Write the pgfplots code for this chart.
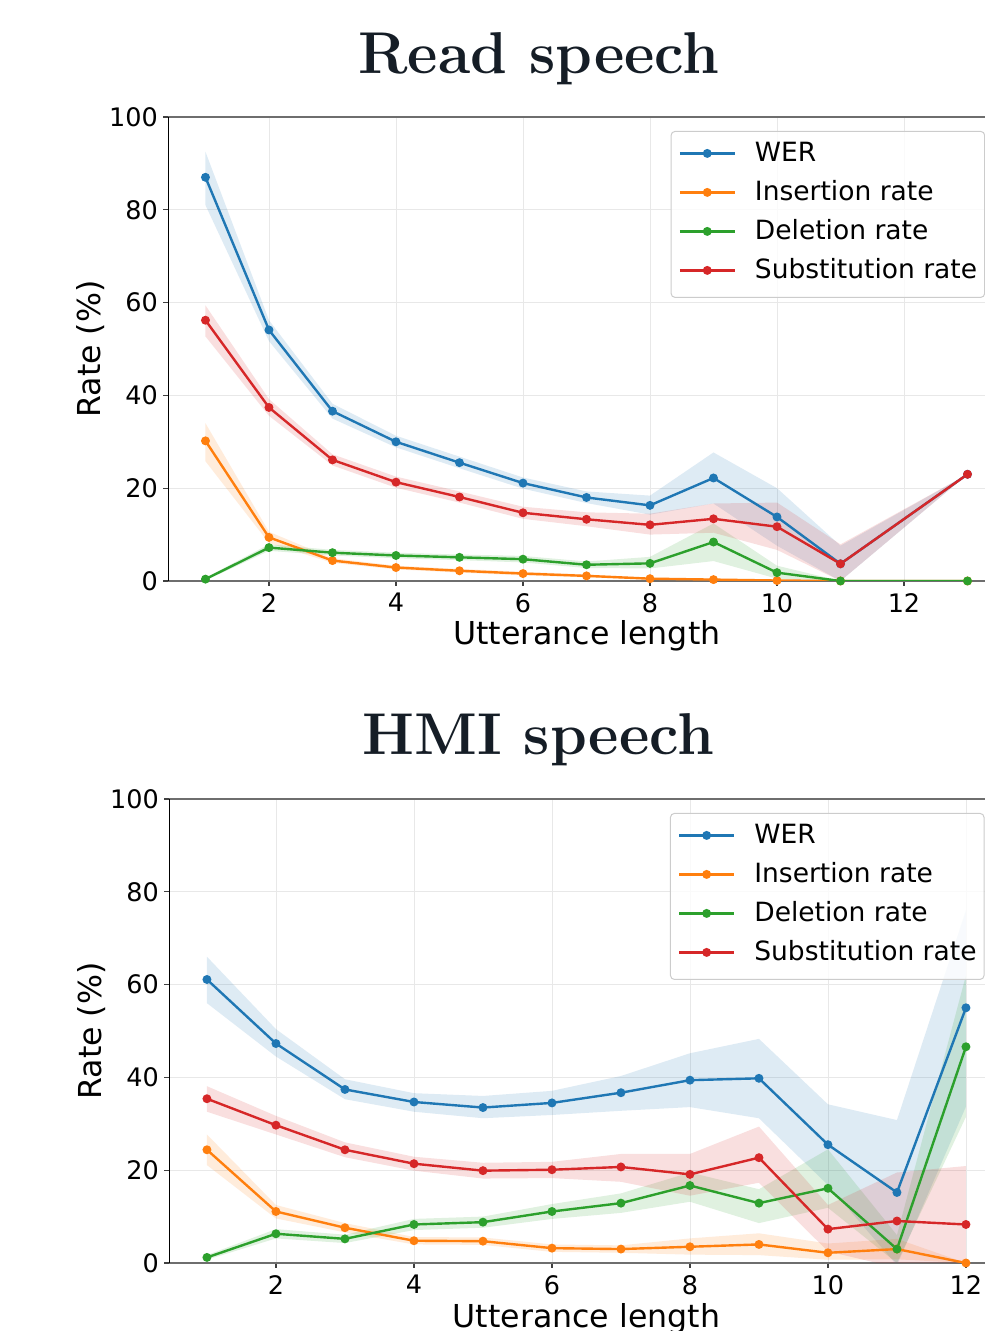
\documentclass[border=0pt]{standalone}
\usepackage{fontspec}
\usepackage{pgfplots}
\pgfplotsset{compat=1.18}
\usepackage{pgfplotstable}
\usepgfplotslibrary{fillbetween}
\newfontfamily\dejavu{DejaVu Sans}
\definecolor{tblue}{HTML}{1F77B4}
\definecolor{torange}{HTML}{FF7F0E}
\definecolor{tgreen}{HTML}{2CA02C}
\definecolor{tred}{HTML}{D62728}
\definecolor{titlec}{HTML}{151D26}
\definecolor{spinec}{HTML}{6E6E6E}
\definecolor{gridc}{HTML}{E8E8E8}

% ---------- Read speech ----------
\pgfplotstableread{
x m lo hi
1 87.0 81.0 92.5
2 54.1 51.7 56.2
3 36.6 35.0 38.2
4 30.0 28.8 31.3
5 25.5 24.3 26.8
6 21.1 19.9 22.3
7 18.0 16.8 19.3
8 16.3 14.3 18.4
9 22.2 16.7 27.7
10 13.8 7.6 20.0
11 3.7 0.0 7.6
13 23.0 23.0 23.0
}\rwer
\pgfplotstableread{
x m lo hi
1 30.2 25.8 34.0
2 9.4 8.2 10.6
3 4.4 3.9 4.9
4 2.9 2.5 3.3
5 2.2 1.8 2.6
6 1.6 1.2 2.0
7 1.1 0.8 1.4
8 0.5 0.3 0.7
9 0.3 0.1 0.5
10 0.1 0.0 0.2
11 0.0 0.0 0.0
13 0.0 0.0 0.0
}\rins
\pgfplotstableread{
x m lo hi
1 0.4 0.1 0.7
2 7.2 6.5 7.9
3 6.1 5.5 6.7
4 5.5 4.9 6.1
5 5.1 4.5 5.7
6 4.7 4.0 5.4
7 3.5 2.8 4.2
8 3.8 2.7 5.2
9 8.4 4.3 12.4
10 1.8 0.5 3.3
11 0.0 0.0 0.0
13 0.0 0.0 0.0
}\rdel
\pgfplotstableread{
x m lo hi
1 56.2 52.7 59.4
2 37.4 35.6 39.2
3 26.1 24.9 27.3
4 21.3 20.1 22.5
5 18.1 16.9 19.3
6 14.7 13.4 16.0
7 13.3 11.8 14.8
8 12.1 10.0 14.5
9 13.4 10.4 16.7
10 11.7 6.7 16.9
11 3.7 0.0 7.9
13 23.0 23.0 23.0
}\rsub

% ---------- HMI speech ----------
\pgfplotstableread{
x m lo hi
1 61.1 56.0 66.0
2 47.3 44.5 50.4
3 37.4 35.3 39.6
4 34.7 32.6 36.6
5 33.5 31.2 36.0
6 34.5 31.9 37.1
7 36.7 32.8 40.3
8 39.4 33.6 45.2
9 39.8 31.2 48.3
10 25.5 16.8 34.2
11 15.2 -0.5 30.8
12 55.0 33.7 76.0
}\hwer
\pgfplotstableread{
x m lo hi
1 24.4 21.1 27.7
2 11.1 9.6 12.5
3 7.6 6.6 8.6
4 4.8 4.0 5.6
5 4.7 3.9 5.5
6 3.2 2.4 4.0
7 3.0 2.2 3.8
8 3.5 1.8 5.3
9 4.0 1.7 6.4
10 2.2 0.7 4.2
11 3.0 0.8 5.2
12 0.0 0.0 0.0
}\hins
\pgfplotstableread{
x m lo hi
1 1.2 0.7 1.7
2 6.3 5.3 7.3
3 5.2 4.3 6.1
4 8.3 7.1 9.5
5 8.8 7.6 10.0
6 11.1 9.5 12.7
7 12.9 10.8 15.0
8 16.7 13.2 19.5
9 12.9 8.6 15.9
10 16.1 11.9 24.5
11 3.0 0.0 6.0
12 46.6 31.5 62.0
}\hdel
\pgfplotstableread{
x m lo hi
1 35.4 32.6 38.1
2 29.7 27.7 31.7
3 24.4 22.8 26.0
4 21.4 19.9 22.9
5 19.9 18.2 21.6
6 20.1 18.3 21.8
7 20.7 17.5 23.5
8 19.1 14.5 23.5
9 22.7 17.3 29.4
10 7.3 2.5 12.5
11 9.05 -1.0 19.5
12 8.3 -4.0 20.9
}\hsub

\newcommand{\band}[3]{%
  \addplot[draw=none, forget plot, name path=#2hi] table[x=x,y=hi]{#1};
  \addplot[draw=none, forget plot, name path=#2lo] table[x=x,y=lo]{#1};
  \addplot[fill=#3, fill opacity=0.15, draw=none, forget plot] fill between[of=#2hi and #2lo];
}

\pgfplotsset{
  series/.style={color=#1, line width=2.4pt, mark=*, mark size=3.2pt, mark options={solid, fill=#1, draw=#1}},
  panel/.style={
    scale only axis, height=464pt,
    ymin=0, ymax=100, ytick={0,20,...,100},
    xtick={2,4,...,12},
    separate axis lines,
    x axis line style={spinec, line width=1.8pt},
    y axis line style={black, line width=1pt},
    grid=major,
    major grid style={gridc, line width=0.9pt},
    tick align=outside,
    xtick pos=bottom, ytick pos=left,
    major tick length=5pt,
    every tick/.style={black!75, line width=1.2pt},
    /pgf/number format/assume math mode=true,
    ticklabel style={font=\dejavu\fontsize{25.5}{30}\selectfont, inner sep=0pt},
    yticklabel style={xshift=-5pt},
    xticklabel style={yshift=-7pt},
    label style={font=\dejavu\fontsize{31.6}{38}\selectfont},
    xlabel={Utterance length},
    ylabel={Rate (\%)},
    xlabel style={at={([yshift=-64pt]axis description cs:0.5,0)}, anchor=base},
    ylabel style={at={([xshift=-68pt]axis description cs:0,0.5)}, anchor=base},
    legend cell align=left,
    legend style={
      at={(0.6,0.970)}, anchor=north west,
      font=\dejavu\fontsize{26.5}{31}\selectfont,
      draw=black!20, line width=1pt, rounded corners=4pt,
      fill=white, fill opacity=0.8, text opacity=1, draw opacity=1,
      inner xsep=7.5pt, inner ysep=11.5pt, row sep=13pt,
      nodes={inner sep=0pt, text height=19pt, text depth=7pt},
      /tikz/every odd column/.append style={column sep=19pt},
    },
    legend image code/.code={
      \draw[line width=2.4pt] (0pt,2.5pt) -- (55pt,2.5pt);
      \fill (27.5pt,2.5pt) circle (3.2pt);
    },
  }
}

\begin{document}
\begin{tikzpicture}
\node[anchor=base, text=titlec, font=\fontsize{59}{70}\selectfont\bfseries] at (539pt,1257.7pt) {Read speech};
\begin{axis}[panel, at={(168pt,750pt)}, anchor=south west, width=837.6pt, xmin=0.41, xmax=13.6]
  \band{\rwer}{rw}{tblue}
  \band{\rins}{ri}{torange}
  \band{\rdel}{rd}{tgreen}
  \band{\rsub}{rs}{tred}
  \addplot[series=tblue] table[x=x,y=m]{\rwer};
  \addlegendentry{WER}
  \addplot[series=torange] table[x=x,y=m]{\rins};
  \addlegendentry{Insertion rate}
  \addplot[series=tgreen] table[x=x,y=m]{\rdel};
  \addlegendentry{Deletion rate}
  \addplot[series=tred] table[x=x,y=m]{\rsub};
  \addlegendentry{Substitution rate}
\end{axis}

\node[anchor=base, text=titlec, font=\fontsize{59}{70}\selectfont\bfseries] at (538pt,576pt) {HMI speech};
\begin{axis}[panel, at={(169pt,68pt)}, anchor=south west, width=834.9pt, xmin=0.45, xmax=12.55]
  \band{\hwer}{hw}{tblue}
  \band{\hins}{hi}{torange}
  \band{\hdel}{hd}{tgreen}
  \band{\hsub}{hs}{tred}
  \addplot[series=tblue] table[x=x,y=m]{\hwer};
  \addlegendentry{WER}
  \addplot[series=torange] table[x=x,y=m]{\hins};
  \addlegendentry{Insertion rate}
  \addplot[series=tgreen] table[x=x,y=m]{\hdel};
  \addlegendentry{Deletion rate}
  \addplot[series=tred] table[x=x,y=m]{\hsub};
  \addlegendentry{Substitution rate}
\end{axis}
\pgfresetboundingbox
\useasboundingbox (0,0) rectangle (985pt,1331pt);
\end{tikzpicture}
\end{document}
